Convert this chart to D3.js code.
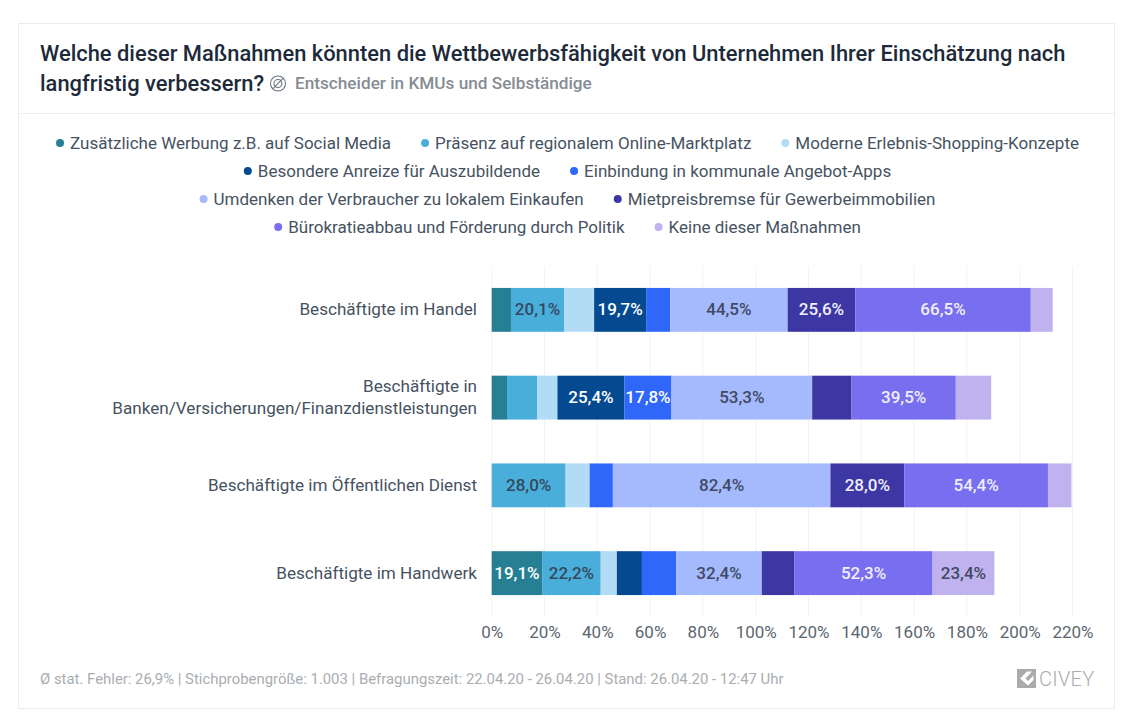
<!DOCTYPE html>
<html><head><meta charset="utf-8">
<script src="https://cdn.jsdelivr.net/npm/d3@7"></script>
<style>
html,body{margin:0;padding:0;background:#fff}
svg{display:block;font-family:Roboto,sans-serif}
</style></head><body>
<svg id="c" width="1128" height="713"></svg>
<script>
const categories=[["Beschäftigte im Handel"],["Beschäftigte in","Banken/Versicherungen/Finanzdienstleistungen"],["Beschäftigte im Öffentlichen Dienst"],["Beschäftigte im Handwerk"]];
const seriesNames=["Zusätzliche Werbung z.B. auf Social Media","Präsenz auf regionalem Online-Marktplatz","Moderne Erlebnis-Shopping-Konzepte","Besondere Anreize für Auszubildende","Einbindung in kommunale Angebot-Apps","Umdenken der Verbraucher zu lokalem Einkaufen","Mietpreisbremse für Gewerbeimmobilien","Bürokratieabbau und Förderung durch Politik","Keine dieser Maßnahmen"];
const legendRowCounts=[3,2,2,2];
const colors=["#267f92","#4aaedb","#b2dcf5","#054a91","#3067fb","#a5b9fd","#3c37a3","#786ef0","#c0b2ef"];
const labelColors=["#fff","#34495e","#34495e","#fff","#fff","#3f4a63","#f1effc","#f1effc","#3f4a63"];
const handel=[7.3,20.1,11.4,19.7,9.1,44.5,25.6,66.5,8.3];
const banken=[5.8,11.4,7.7,25.4,17.8,53.3,14.9,39.5,13.4];
const dienst=[0,28.0,9.1,0,8.8,82.4,28.0,54.4,8.9];
const handwerk=[19.1,22.2,6.1,9.5,13.0,32.4,12.4,52.3,23.4];
const rows=[handel,banken,dienst,handwerk];
const ticks=d3.range(0,221,20);
const minLabel=17;
const FS=17;

const svg=d3.select("#c");
svg.append("rect").attr("x",18.5).attr("y",23.5).attr("width",1096).attr("height",685).attr("fill","#fff").attr("stroke","#ececec");
svg.append("line").attr("x1",19).attr("x2",1114).attr("y1",113.5).attr("y2",113.5).attr("stroke","#eeeeee");
svg.append("text").attr("x",40).attr("y",60.5).attr("font-size",21.9).attr("font-weight",500).attr("fill","#1d2a3a").text("Welche dieser Maßnahmen könnten die Wettbewerbsfähigkeit von Unternehmen Ihrer Einschätzung nach");
svg.append("text").attr("x",40).attr("y",91).attr("font-size",21.9).attr("font-weight",500).attr("fill","#1d2a3a").text("langfristig verbessern?");
const ic=svg.append("g").attr("transform","translate(278,83.5)").attr("fill","none").attr("stroke","#6b7480").attr("stroke-width",1.1);
ic.append("circle").attr("r",7.5);
ic.append("circle").attr("r",4);
ic.append("line").attr("x1",-5.3).attr("y1",5.3).attr("x2",5.3).attr("y2",-5.3);
svg.append("text").attr("x",295).attr("y",88.5).attr("font-size",17.2).attr("font-weight",500).attr("fill","#868c94").text("Entscheider in KMUs und Selbständige");

let idx=0;
legendRowCounts.forEach((n,ri)=>{
  const names=seriesNames.slice(idx,idx+n);
  const g=svg.append("g");
  let x=0;
  names.forEach((name,i)=>{
    const it=g.append("g").attr("transform",`translate(${x},0)`);
    it.append("circle").attr("cx",4).attr("cy",0).attr("r",4).attr("fill",colors[idx+i]);
    const t=it.append("text").attr("x",14).attr("y",5.6).attr("font-size",FS).attr("fill","#46525f").text(name);
    x+=14+t.node().getComputedTextLength()+30;
  });
  const w=x-30;
  g.attr("transform",`translate(${567.5-w/2},${143+ri*28})`);
  idx+=n;
});

const x=d3.scaleLinear().domain([0,220]).range([491.7,1072.5]);
const y=d3.scaleBand().domain(d3.range(categories.length)).range([266,617]).paddingInner(0.5).paddingOuter(0.25);
svg.append("g").selectAll("line").data(ticks).join("line")
  .attr("x1",d=>x(d)).attr("x2",d=>x(d)).attr("y1",266).attr("y2",617).attr("stroke","#f3f3f3");
const axis=d3.axisBottom(x).tickValues(ticks).tickSize(0).tickPadding(0).tickFormat(d=>d+"%");
const ax=svg.append("g").attr("transform","translate(0,626)").call(axis);
ax.select(".domain").remove();
ax.selectAll("text").attr("font-family","Roboto,sans-serif").attr("font-size",FS).attr("fill","#5c6670");

rows.forEach((vals,r)=>{
  const g=svg.append("g");
  let cum=0;
  const segs=vals.map((v,i)=>{const s={v,i,a:cum,b:cum+v};cum+=v;return s;}).filter(s=>s.v>0);
  g.selectAll("rect").data(segs).join("rect")
    .attr("x",d=>x(d.a)).attr("width",d=>x(d.b)-x(d.a)).attr("y",y(r)).attr("height",y.bandwidth())
    .attr("fill",d=>colors[d.i]);
  g.selectAll("text").data(segs.filter(s=>s.v>=minLabel)).join("text")
    .attr("x",d=>x((d.a+d.b)/2)).attr("y",y(r)+y.bandwidth()/2+5.6)
    .attr("text-anchor","middle").attr("font-size",FS).attr("font-weight",500)
    .attr("fill",d=>labelColors[d.i])
    .text(d=>d.v.toFixed(1).replace(".",",")+"%");
  const lines=categories[r];
  const t=svg.append("text").attr("text-anchor","end").attr("font-size",17.1).attr("fill","#46525f");
  lines.forEach((l,i)=>t.append("tspan").attr("x",477).attr("y",y(r)+y.bandwidth()/2+5.6+(i-(lines.length-1)/2)*21.5).text(l));
});

svg.append("text").attr("x",40).attr("y",683.5).attr("font-size",14.9).attr("fill","#a9adb2").text("Ø stat. Fehler: 26,9% | Stichprobengröße: 1.003 | Befragungszeit: 22.04.20 - 26.04.20 | Stand: 26.04.20 - 12:47 Uhr");
const lg=svg.append("g").attr("transform","translate(1017,669)");
lg.append("rect").attr("width",19).attr("height",19).attr("fill","#a9abad");
lg.append("path").attr("d","M3 9.5L10 2.5H15L8.5 9.5L11 12L16.5 6.5V11L11 16.5Z").attr("fill","#fff");
svg.append("text").attr("x",1039).attr("y",686).attr("font-size",20).attr("font-weight",300).attr("letter-spacing",0.3).attr("fill","#a9abad").text("CIVEY");
</script>
</body></html>
